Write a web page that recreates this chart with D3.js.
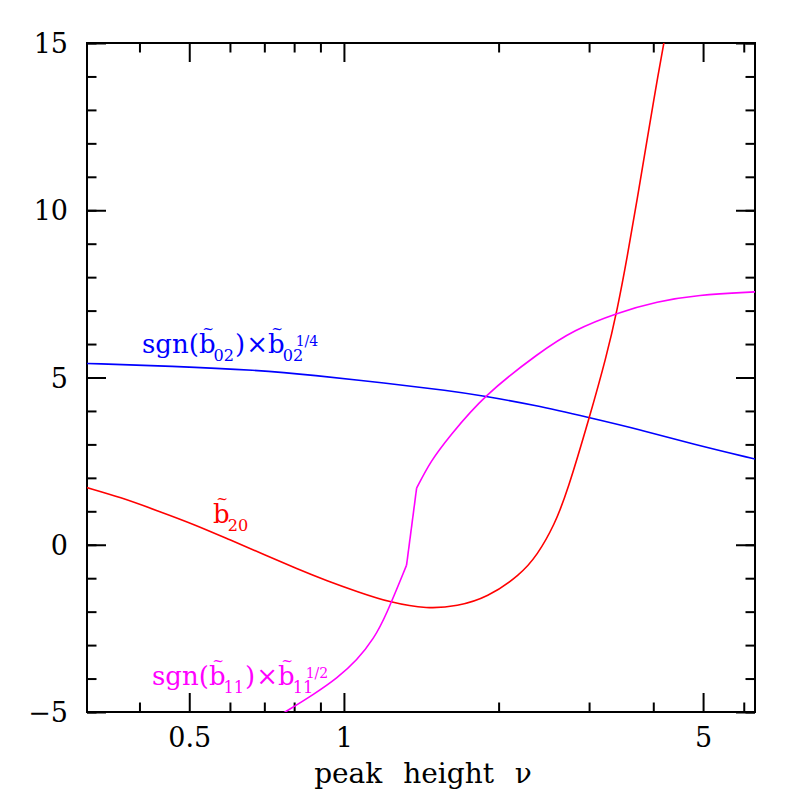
<!DOCTYPE html>
<html><head><meta charset="utf-8">
<script src="https://cdn.jsdelivr.net/npm/d3@7"></script>
<style>html,body{margin:0;padding:0;background:#fff}</style>
</head><body><svg id="c" width="797" height="797"></svg>
<script>
// ---- data ----
const xDomain = [0.3162, 6.31];
const yDomain = [-5, 15];
const xMajorTicks = [0.5, 1, 5];
const xMinorTicks = [0.4, 0.6, 0.7, 0.8, 0.9, 2, 3, 4, 6];
const yMajorTicks = [-5, 0, 5, 10, 15];
const yMinorTicks = [-5,-4,-3,-2,-1,0,1,2,3,4,5,6,7,8,9,10,11,12,13,14,15];
const xTitle = "peak height \u03BD";

const blueNu  = [0.316, 0.463, 0.678, 0.871, 1.203, 1.603, 1.867, 2.346, 3.00, 3.79, 4.77, 6.32];
const blueVal = [5.42, 5.34, 5.22, 5.07, 4.83, 4.61, 4.45, 4.18, 3.80, 3.43, 3.01, 2.56];

const redNu  = [0.316, 0.367, 0.433, 0.511, 0.601, 0.699, 0.811, 0.928, 1.061, 1.232, 1.453, 1.662, 1.901, 2.204, 2.379, 2.568, 2.721, 3.003, 3.242, 3.405, 3.561, 3.724, 3.895, 4.037, 4.203, 4.357];
const redVal = [1.71, 1.42, 1.02, 0.61, 0.14, -0.29, -0.72, -1.08, -1.40, -1.73, -1.92, -1.84, -1.58, -0.90, -0.31, 0.59, 1.58, 3.79, 5.62, 7.03, 8.62, 10.35, 12.15, 13.58, 15.09, 16.37];

// magenta: smooth lower branch, straight steep piece, smooth upper branch
const magNu  = [0.731, 0.776, 0.874, 0.970, 1.061, 1.144, 1.205, 1.324, 1.385, 1.474, 1.603, 1.867, 2.411, 2.799, 3.410, 4.068, 4.868, 6.32];
const magVal = [-5.2, -4.96, -4.47, -3.99, -3.45, -2.80, -2.15, -0.61, 1.69, 2.50, 3.23, 4.45, 5.77, 6.42, 6.94, 7.27, 7.47, 7.56];
const magCorners = [7, 8];

// ---- layout ----
const L = 87, R = 755, T = 43, B = 712;
const FONT = "'DejaVu Serif', serif";
const svg = d3.select("#c");
const x = d3.scaleLog().domain(xDomain).range([L, R]);
const y = d3.scaleLinear().domain(yDomain).range([B, T]);

function styleAxis(g, size) {
  g.select(".domain").remove();
  g.selectAll(".tick line").attr("stroke", "#000").attr("stroke-width", 2);
  g.attr("font-family", FONT).attr("font-size", size);
  g.selectAll(".tick text").attr("fill", "#000");
}
// bottom
svg.append("g").attr("transform", `translate(0,${B})`)
  .call(d3.axisBottom(x).tickValues(xMinorTicks).tickSize(-9.5).tickFormat(""))
  .call(g => styleAxis(g, 27));
svg.append("g").attr("transform", `translate(0,${B})`)
  .call(d3.axisBottom(x).tickValues(xMajorTicks).tickSize(-19).tickPadding(16).tickFormat(d3.format("")))
  .call(g => styleAxis(g, 27));
// top
svg.append("g").attr("transform", `translate(0,${T})`)
  .call(d3.axisTop(x).tickValues(xMinorTicks).tickSize(-9.5).tickFormat(""))
  .call(g => styleAxis(g, 27));
svg.append("g").attr("transform", `translate(0,${T})`)
  .call(d3.axisTop(x).tickValues(xMajorTicks).tickSize(-19).tickFormat(""))
  .call(g => styleAxis(g, 27));
// left
svg.append("g").attr("transform", `translate(${L},0)`)
  .call(d3.axisLeft(y).tickValues(yMinorTicks).tickSize(-9.5).tickFormat(""))
  .call(g => styleAxis(g, 27));
svg.append("g").attr("transform", `translate(${L},0)`)
  .call(d3.axisLeft(y).tickValues(yMajorTicks).tickSize(-19).tickPadding(19)
        .tickFormat(d => d < 0 ? "\u2212" + Math.abs(d) : String(d)))
  .call(g => { styleAxis(g, 27); g.selectAll(".tick text").attr("dy", "0.36em"); });
// right
svg.append("g").attr("transform", `translate(${R},0)`)
  .call(d3.axisRight(y).tickValues(yMinorTicks).tickSize(-9.5).tickFormat(""))
  .call(g => styleAxis(g, 27));
svg.append("g").attr("transform", `translate(${R},0)`)
  .call(d3.axisRight(y).tickValues(yMajorTicks).tickSize(-19).tickFormat(""))
  .call(g => styleAxis(g, 27));

// frame
svg.append("rect").attr("x", L).attr("y", T).attr("width", R - L).attr("height", B - T)
  .attr("fill", "none").attr("stroke", "#000").attr("stroke-width", 2);

// title
svg.append("text").attr("x", (L + R) / 2 + 2).attr("y", 783)
  .attr("text-anchor", "middle").attr("font-family", FONT).attr("font-size", 28)
  .attr("word-spacing", "12px").text(xTitle);

// curves
svg.append("clipPath").attr("id", "clip").append("rect")
  .attr("x", L).attr("y", T).attr("width", R - L).attr("height", B - T);
const line = d3.line().x(d => x(d[0])).y(d => y(d[1])).curve(d3.curveBasis);
const cg = svg.append("g").attr("clip-path", "url(#clip)");
function drawPieces(nu, val, corners, color) {
  const pts = nu.map((n, i) => [n, val[i]]);
  const cuts = [0, ...corners, pts.length - 1];
  for (let k = 0; k < cuts.length - 1; k++) {
    cg.append("path").datum(pts.slice(cuts[k], cuts[k + 1] + 1))
      .attr("d", line).attr("fill", "none").attr("stroke", color)
      .attr("stroke-width", 1.6).attr("stroke-linejoin", "round");
  }
}
drawPieces(blueNu, blueVal, [], "#0000ff");
drawPieces(redNu, redVal, [], "#ff0000");
drawPieces(magNu, magVal, magCorners, "#ff00ff");

// rich labels
function richLabel(x0, y0, parts, color, base) {
  const g = svg.append("g").attr("fill", color).attr("font-family", FONT);
  let cx = x0;
  const put = (t, xx, yy, size) => {
    const el = g.append("text").attr("x", xx).attr("y", yy).attr("font-size", size).text(t);
    return el.node().getComputedTextLength();
  };
  parts.forEach(p => {
    if (p.t !== undefined) {
      cx += put(p.t, cx, y0, base) + (p.gap || 0);
    } else if (p.b) {
      const w = put("b", cx, y0, base);
      g.append("text").attr("x", cx + w * 0.55).attr("y", y0 - base * 0.72)
        .attr("font-size", base * 0.54).attr("text-anchor", "middle").text("~");
      cx += w;
    } else {
      const sx = cx - 2;
      let w1 = 0, w2 = 0;
      if (p.sub) w1 = put(p.sub, sx, y0 + base * 0.32, base * 0.62);
      if (p.sup) w2 = put(p.sup, sx + base * 0.5, y0 - base * 0.27, base * 0.54) + base * 0.5;
      cx = sx + Math.max(w1, w2) + 1;
    }
  });
}
richLabel(142, 353, [{t: "sgn("}, {b: 1}, {sub: "02"}, {t: ")", gap: 1}, {t: "\u00D7"}, {b: 1}, {sub: "02", sup: "1/4"}], "#0000ff", 26);
richLabel(213, 523, [{b: 1}, {sub: "20"}], "#ff0000", 26);
richLabel(152, 685, [{t: "sgn("}, {b: 1}, {sub: "11"}, {t: ")", gap: 1}, {t: "\u00D7"}, {b: 1}, {sub: "11", sup: "1/2"}], "#ff00ff", 26);
</script></body></html>
